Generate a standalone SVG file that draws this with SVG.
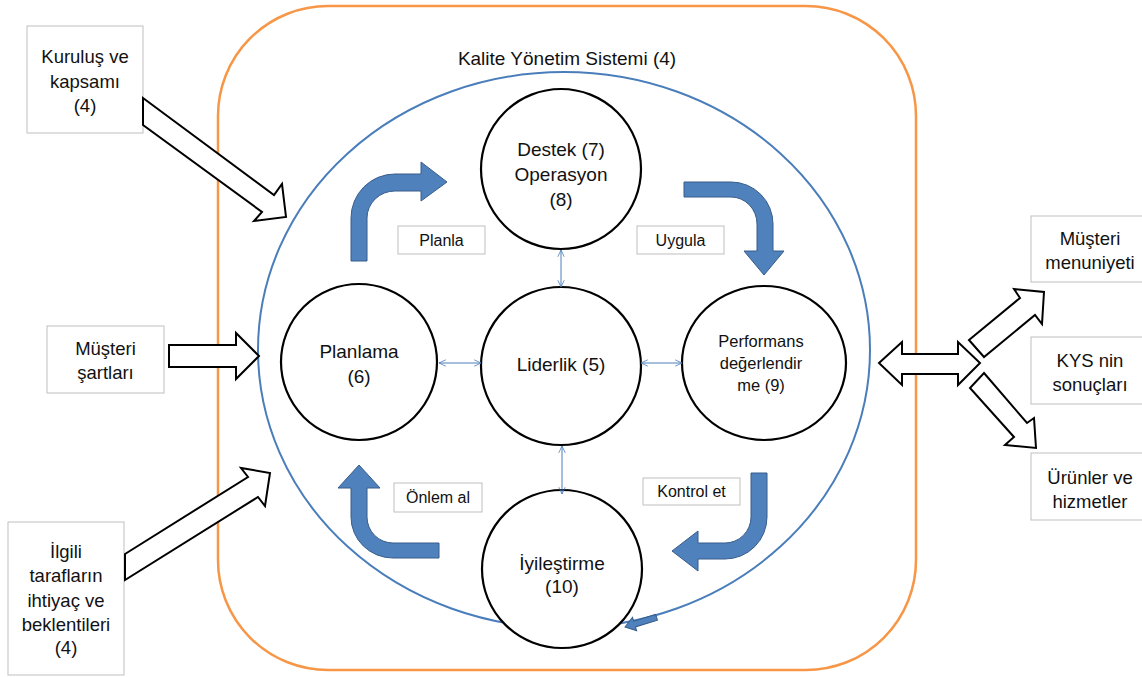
<svg xmlns="http://www.w3.org/2000/svg" width="1142" height="677" viewBox="0 0 1142 677">
<style>
text{font-family:"Liberation Sans",Arial,sans-serif;fill:#111;text-anchor:middle}
.ob{font-size:18.5px}
.ct{font-size:19px}
.lb{font-size:16px}
.pf{font-size:16.5px}
.box{fill:#fff;stroke:#bfbfbf;stroke-width:1}
.circ{fill:#fff;stroke:#000;stroke-width:2.2}
.blk{fill:#fff;stroke:#000;stroke-width:2;stroke-linejoin:miter}
.bl{fill:#4f81bd;stroke:#385d8a;stroke-width:1}
.con{stroke:#4a7ebb;stroke-width:1;fill:none;marker-start:url(#av);marker-end:url(#av)}
</style>
<defs>
<marker id="av" viewBox="0 0 10 10" refX="9.5" refY="5" markerWidth="8" markerHeight="8" orient="auto-start-reverse" markerUnits="userSpaceOnUse">
<path d="M1,1 L9.5,5 L1,9" fill="none" stroke="#4a7ebb" stroke-width="1"/>
</marker>
</defs>
<rect width="1142" height="677" fill="#fff"/>
<g id="system">
<rect x="218" y="6" width="698" height="664" rx="110" ry="110" fill="none" stroke="#f79646" stroke-width="2.5"/>
<text x="567" y="65" style="font-size:19px">Kalite Yönetim Sistemi (4)</text>
<ellipse cx="564" cy="350" rx="306" ry="278" fill="none" stroke="#4a7ebb" stroke-width="2"/>
</g>
<g id="destek">
<ellipse class="circ" cx="561" cy="169" rx="80" ry="80"/>
<text class="ct" x="561" y="156">Destek (7)</text>
<text class="ct" x="561" y="181">Operasyon</text>
<text class="ct" x="561" y="206">(8)</text>
</g>
<g id="planlama">
<ellipse class="circ" cx="359" cy="362" rx="78" ry="78"/>
<text class="ct" x="359" y="358">Planlama</text>
<text class="ct" x="359" y="383">(6)</text>
</g>
<g id="liderlik">
<ellipse class="circ" cx="561" cy="366" rx="80" ry="79"/>
<text class="ct" x="561" y="371">Liderlik (5)</text>
</g>
<g id="performans">
<ellipse class="circ" cx="764" cy="363" rx="82" ry="77"/>
<text class="pf" x="761" y="347">Performans</text>
<text class="pf" x="761" y="369">değerlendir</text>
<text class="pf" x="761" y="391">me (9)</text>
</g>
<g id="iyilestirme">
<ellipse class="circ" cx="562" cy="569" rx="80" ry="79"/>
<text class="ct" x="562" y="570">İyileştirme</text>
<text class="ct" x="562" y="593">(10)</text>
</g>
<g id="planla">
<rect class="box" x="398" y="226" width="87" height="28"/>
<text class="lb" x="441.5" y="246">Planla</text>
</g>
<g id="uygula">
<rect class="box" x="637" y="226" width="87" height="28"/>
<text class="lb" x="680.5" y="246">Uygula</text>
</g>
<g id="onlem">
<rect class="box" x="394" y="483" width="88" height="29"/>
<text class="lb" x="438" y="503">Önlem al</text>
</g>
<g id="kontrol">
<rect class="box" x="643" y="478" width="97" height="27"/>
<text class="lb" x="691.5" y="497">Kontrol et</text>
</g>
<g id="kurulus">
<rect class="box" x="27" y="26" width="116" height="107"/>
<text class="ob" x="85" y="63">Kuruluş ve</text>
<text class="ob" x="85" y="88">kapsamı</text>
<text class="ob" x="85" y="112">(4)</text>
</g>
<g id="musteri-sartlari">
<rect class="box" x="47" y="326" width="117" height="67"/>
<text class="ob" x="105.5" y="355">Müşteri</text>
<text class="ob" x="105.5" y="379">şartları</text>
</g>
<g id="ilgili">
<rect class="box" x="8" y="522" width="116" height="153"/>
<text class="ob" x="66" y="558">İlgili</text>
<text class="ob" x="66" y="582">tarafların</text>
<text class="ob" x="66" y="607">ihtiyaç ve</text>
<text class="ob" x="66" y="631">beklentileri</text>
<text class="ob" x="66" y="654">(4)</text>
</g>
<g id="memnuniyet">
<rect class="box" x="1031" y="216" width="120" height="66"/>
<text class="ob" x="1090" y="245">Müşteri</text>
<text class="ob" x="1090" y="269">menuniyeti</text>
</g>
<g id="kys">
<rect class="box" x="1031" y="337" width="120" height="67"/>
<text class="ob" x="1090" y="367">KYS nin</text>
<text class="ob" x="1090" y="391">sonuçları</text>
</g>
<g id="urunler">
<rect class="box" x="1031" y="453" width="120" height="67"/>
<text class="ob" x="1090" y="484">Ürünler ve</text>
<text class="ob" x="1090" y="508">hizmetler</text>
</g>
<g id="connectors">
<line class="con" x1="561" y1="250" x2="561" y2="287"/>
<line class="con" x1="439" y1="363" x2="481" y2="363"/>
<line class="con" x1="641" y1="363" x2="682" y2="363"/>
<line class="con" x1="562" y1="446" x2="562" y2="494"/>
<path class="bl" d="M351,261 L351,218 A44,44 0 0 1 395,174 L421,174 L421,162 L447,182 L421,201 L421,191 L395,191 A28,27 0 0 0 367,218 L367,261 Z"/>
<path class="bl" d="M684,182 L731,182 A42,42 0 0 1 773,224 L773,251 L784,251 L764,275 L744,251 L757,251 L757,224 A26,27 0 0 0 731,197 L684,197 Z"/>
<path class="bl" d="M751,473 L767,473 L767,517 A42,42 0 0 1 725,559 L698,559 L698,571 L672,551 L698,531 L698,543 L725,543 A26,26 0 0 0 751,517 Z"/>
<path class="bl" d="M439,543 L393,543 A26,26 0 0 1 367,517 L367,488 L380,488 L359,465 L338,488 L351,488 L351,517 A42,41 0 0 0 393,558 L439,558 Z"/>
<path class="bl" transform="translate(625,627) rotate(-17)" d="M0,0 L10,-7 L10,-3 L33,-3 L33,3 L10,3 L10,7 Z"/>
<polygon class="blk" points="143,98 274,195 282,184 286,217 254,221 262,212 143,125"/>
<polygon class="blk" points="169,345 236,345 236,333 259,356 236,379 236,367 169,367"/>
<polygon class="blk" points="125,554 248,477 241,468 270,473 265,506 258,497 125,580"/>
<polygon class="blk" points="879,363 902,342 902,354 958,354 958,342 980,363 958,385 958,374 902,374 902,385"/>
<polygon class="blk" points="969,340 1020,298 1014,289 1044,292 1042,324 1035,315 984,357"/>
<polygon class="blk" points="984,373 1027,423 1034,418 1036,448 1005,445 1014,437 970,388"/>
</g>
</svg>
